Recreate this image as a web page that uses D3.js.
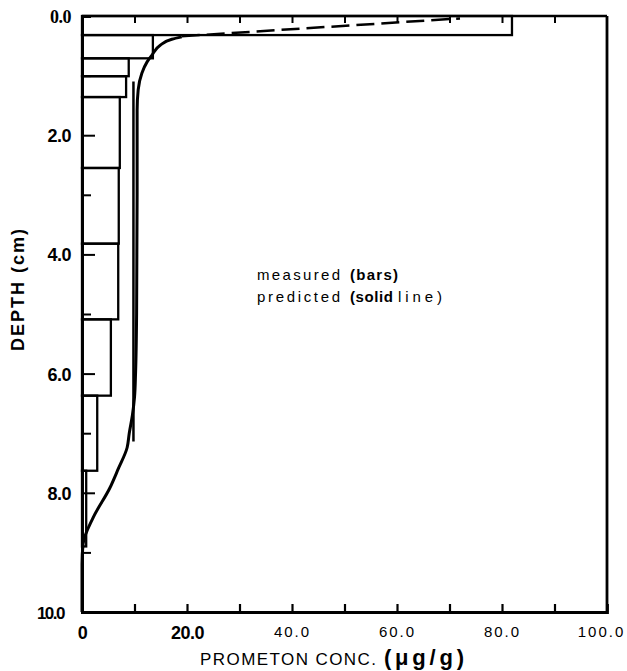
<!DOCTYPE html>
<html>
<head>
<meta charset="utf-8">
<script src="https://cdn.jsdelivr.net/npm/d3@7"></script>
<style>
  body { margin: 0; background: #fff; }
  svg { display: block; }
  .axis path, .axis line { stroke: #000; }
  .lab { font-family: "Liberation Sans", Arial, sans-serif; fill: #000; }
</style>
</head>
<body>
<div id="chart"></div>
<script>
// measured concentration profile (bars): depth intervals (cm) and conc (ug/g)
const barTop = [0, 0.32, 0.71, 1.01, 1.36, 2.55, 3.82, 5.09, 6.37, 7.63];
const barBottom = [0.32, 0.71, 1.01, 1.36, 2.55, 3.82, 5.09, 6.37, 7.63, 8.9];
const barConc = [81.9, 13.5, 8.9, 8.4, 7.2, 7.0, 6.9, 5.5, 2.9, 0.8];

// predicted profile (solid curve)
const predDepth = [0.35, 0.39, 0.49, 0.66, 0.77, 0.96, 1.24, 1.58, 3.0, 5.0, 6.0, 6.4, 6.7, 7.0, 7.24, 7.6, 7.92, 8.42, 8.86, 9.2, 10.0];
const predConc = [19.0, 17.1, 14.9, 13.3, 12.4, 11.4, 10.7, 10.5, 10.5, 10.4, 10.2, 10.0, 9.6, 9.0, 8.6, 6.9, 5.3, 2.1, 0.2, 0, 0];

// straight vertical segment and dashed line near the surface
const stemDepth = [1.1, 7.14];
const stemConc = [9.8, 9.8];
const dashDepth = [0.34, 0.04];
const dashConc = [19, 72];

// axis ticks
const xMajor = [0, 20, 40, 60, 80, 100];
const xMajorLabels = ['0', '20.0', '40.0', '60.0', '80.0', '100.0'];
const xMinor = [10, 20, 30, 40, 50, 60, 70, 80, 90];
const yMajor = [0, 2, 4, 6, 8, 10];
const yMajorLabels = ['0.0', '2.0', '4.0', '6.0', '8.0', '10.0'];
const yMinor = [1, 3, 5, 7, 9];

const W = 627, H = 671;
const x = d3.scaleLinear().domain([0, 100]).range([82, 607]);
const y = d3.scaleLinear().domain([0, 10]).range([16, 612]);

const svg = d3.select('#chart').append('svg')
  .attr('width', W).attr('height', H);
svg.append('rect').attr('width', W).attr('height', H).attr('fill', '#fff');

// bars
const bars = barConc.map((c, i) => ({ c: c, t: barTop[i], b: barBottom[i] }));
svg.selectAll('.bar').data(bars).enter().append('rect')
  .attr('class', 'bar')
  .attr('x', x(0))
  .attr('y', d => y(d.t))
  .attr('width', d => x(d.c) - x(0))
  .attr('height', d => y(d.b) - y(d.t))
  .attr('fill', 'none').attr('stroke', '#000').attr('stroke-width', 2.3);

// frame: top and right
svg.append('line').attr('x1', x(0)).attr('x2', x(100)).attr('y1', y(0)).attr('y2', y(0))
  .attr('stroke', '#000').attr('stroke-width', 2.5);
svg.append('line').attr('x1', x(100)).attr('x2', x(100)).attr('y1', y(0)).attr('y2', y(10))
  .attr('stroke', '#000').attr('stroke-width', 2.8);

// axes
const bottomAxis = d3.axisBottom(x).tickValues(xMinor).tickSize(-8).tickFormat('');
svg.append('g').attr('class', 'axis').attr('transform', 'translate(0,' + y(10) + ')')
  .call(bottomAxis).call(g => { g.select('.domain').attr('stroke-width', 2.8); g.selectAll('.tick line').attr('stroke-width', 2.2); });

const topAxis = d3.axisTop(x).tickValues(xMinor).tickSize(-7).tickFormat('');
svg.append('g').attr('class', 'axis').attr('transform', 'translate(0,' + y(0) + ')')
  .call(topAxis).call(g => { g.select('.domain').remove(); g.selectAll('.tick line').attr('stroke-width', 2); });

const leftMinor = d3.axisLeft(y).tickValues(yMinor).tickSize(-9).tickFormat('');
svg.append('g').attr('class', 'axis').attr('transform', 'translate(' + x(0) + ',0)')
  .call(leftMinor).call(g => { g.select('.domain').attr('stroke-width', 3); g.selectAll('.tick line').attr('stroke-width', 2); });

const leftMajor = d3.axisLeft(y).tickValues(yMajor).tickSize(-13).tickPadding(11)
  .tickFormat((d, i) => yMajorLabels[i]);
svg.append('g').attr('class', 'axis').attr('transform', 'translate(' + x(0) + ',0)')
  .call(leftMajor).call(g => {
    g.select('.domain').remove();
    g.selectAll('.tick line').attr('stroke-width', 2)
      .filter(d => d === 0 || d === 10).remove();
    g.selectAll('.tick text').attr('class', 'lab')
      .style('font-size', d => d === 10 ? '17px' : '18px')
      .style('font-family', d => d === 0 ? '"Liberation Serif", serif' : null)
      .style('font-weight', 'bold')
      .style('letter-spacing', d => d === 10 ? '-1.5px' : '-0.5px')
      .attr('dy', '0.36em')
      .attr('x', d => d === 10 ? -18 : -11);
  });

const bottomLabels = d3.axisBottom(x).tickValues(xMajor).tickSize(0).tickPadding(14)
  .tickFormat((d, i) => xMajorLabels[i]);
svg.append('g').attr('class', 'axis').attr('transform', 'translate(0,' + y(10) + ')')
  .call(bottomLabels).call(g => {
    g.select('.domain').remove();
    g.selectAll('.tick text').attr('class', 'lab')
      .style('font-size', d => d <= 20 ? '18px' : '15px')
      .style('font-weight', d => d <= 20 ? 'bold' : 'normal')
      .style('letter-spacing', d => d <= 20 ? '-0.5px' : '2px')
      .attr('dx', d => d === 100 ? -6 : 0);
  });

// predicted curve
const line = d3.line().x(d => x(d[0])).y(d => y(d[1]));
svg.append('path')
  .datum(predConc.map((c, i) => [c, predDepth[i]]))
  .attr('d', line.curve(d3.curveMonotoneY))
  .attr('fill', 'none').attr('stroke', '#000').attr('stroke-width', 3);

svg.append('path')
  .datum(stemConc.map((c, i) => [c, stemDepth[i]]))
  .attr('d', d3.line().x(d => x(d[0])).y(d => y(d[1])))
  .attr('fill', 'none').attr('stroke', '#000').attr('stroke-width', 2.5);

svg.append('path')
  .datum(dashConc.map((c, i) => [c, dashDepth[i]]))
  .attr('d', d3.line().x(d => x(d[0])).y(d => y(d[1])))
  .attr('fill', 'none').attr('stroke', '#000').attr('stroke-width', 2.5)
  .attr('stroke-dasharray', '18,7');

// axis titles
svg.append('text').attr('class', 'lab')
  .attr('transform', 'translate(24,290) rotate(-90)')
  .attr('text-anchor', 'middle')
  .attr('textLength', 122).attr('lengthAdjust', 'spacing')
  .style('font-size', '18px').style('font-weight', 'bold')
  .text('DEPTH (cm)');

svg.append('text').attr('class', 'lab')
  .attr('x', 200).attr('y', 665)
  .attr('textLength', 176).attr('lengthAdjust', 'spacing')
  .style('font-size', '17px')
  .text('PROMETON CONC.');
svg.append('text').attr('class', 'lab')
  .attr('x', 384).attr('y', 665)
  .attr('textLength', 80).attr('lengthAdjust', 'spacing')
  .style('font-size', '22px').style('font-weight', 'bold')
  .text('(\u03bcg/g)');

// legend text
const legend = [
  { x: 257, y: 280, w: 83, t: 'measured', b: false },
  { x: 350, y: 280, w: 48, t: '(bars)', b: true },
  { x: 257, y: 302, w: 83, t: 'predicted', b: false },
  { x: 350, y: 302, w: 43, t: '(solid', b: true },
  { x: 398, y: 302, w: 44, t: 'line)', b: false }
];
svg.selectAll('.leg').data(legend).enter().append('text')
  .attr('class', 'lab')
  .attr('x', d => d.x).attr('y', d => d.y)
  .attr('textLength', d => d.w).attr('lengthAdjust', 'spacing')
  .style('font-size', '15px')
  .style('font-weight', d => d.b ? 'bold' : 'normal')
  .text(d => d.t);
</script>
</body>
</html>
